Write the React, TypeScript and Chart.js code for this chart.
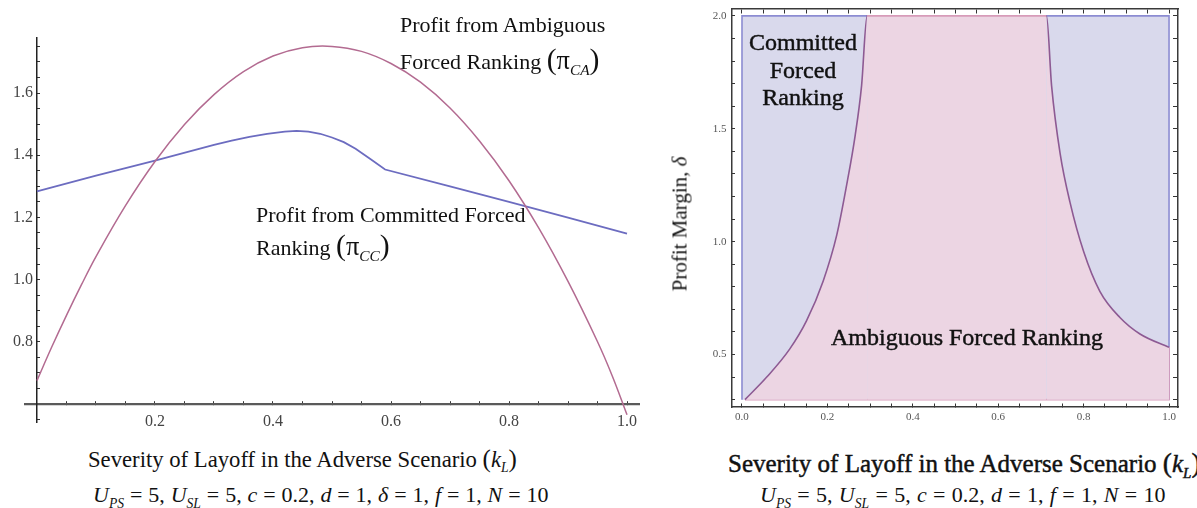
import React, { useEffect, useRef } from 'react';
import { Chart, registerables } from 'chart.js';

Chart.register(...registerables);

// ---------------- Left panel data ----------------
const kAmbiguous = [0, 0.025, 0.05, 0.075, 0.1, 0.15, 0.2, 0.25, 0.3, 0.35, 0.4, 0.45, 0.5, 0.55, 0.6, 0.65, 0.7, 0.75, 0.8, 0.85, 0.9, 0.95, 0.975, 1.0];
const profitAmbiguous = [0.675, 0.783, 0.885, 0.982, 1.074, 1.238, 1.38, 1.499, 1.595, 1.669, 1.719, 1.746, 1.75, 1.734, 1.695, 1.635, 1.552, 1.446, 1.318, 1.167, 0.994, 0.8, 0.69, 0.565];

const kCommitted = [0, 0.1, 0.2, 0.3, 0.33, 0.36, 0.39, 0.42, 0.44, 0.46, 0.48, 0.5, 0.52, 0.54, 0.565, 0.59, 0.7, 0.8, 0.9, 1.0];
const profitCommitted = [1.284, 1.334, 1.383, 1.433, 1.447, 1.459, 1.469, 1.476, 1.478, 1.476, 1.469, 1.457, 1.442, 1.421, 1.388, 1.354, 1.3, 1.25, 1.199, 1.148];

const leftXTickLabels = ['0.2', '0.4', '0.6', '0.8', '1.0'];
const leftYTickLabels = ['0.8', '1.0', '1.2', '1.4', '1.6'];

// ---------------- Right panel data ----------------
const deltaLow = 0.3;
const deltaHigh = 2.0;
const leftBoundaryK = [0.007, 0.058, 0.112, 0.151, 0.19, 0.222, 0.245, 0.265, 0.28, 0.293];
const leftBoundaryDelta = [0.3, 0.4, 0.525, 0.649, 0.825, 1.03, 1.25, 1.47, 1.69, 2.0];
const rightBoundaryK = [0.713, 0.725, 0.745, 0.768, 0.8, 0.838, 0.885, 0.932, 1.0];
const rightBoundaryDelta = [2.0, 1.69, 1.39, 1.175, 0.956, 0.78, 0.664, 0.591, 0.532];

const rightXTickLabels = ['0.0', '0.2', '0.4', '0.6', '0.8', '1.0'];
const rightYTickLabels = ['0.5', '1.0', '1.5', '2.0'];

// ---------------- Styles ----------------
const PINK_LINE = '#b36b91';
const BLUE_LINE = '#6c6cc0';
const BLUE_FILL = '#d9d9ec';
const PINK_FILL = '#ecd5e3';
const BOUNDARY = '#8d5a93';
const BLUE_EDGE = '#8c8cd2';
const PINK_EDGE = '#d79bb9';
const SERIF = '"Liberation Serif", "Times New Roman", serif';

const toPoints = (xs: number[], ys: number[]) => xs.map((x, i) => ({ x, y: ys[i] }));

const labelFrom = (list: string[], spaces = '') => (v: any) => {
  const n = Number(v);
  const s = n.toFixed(1);
  if (Math.abs(n - Number(s)) < 1e-6 && list.includes(s)) return s + spaces;
  return '';
};

function LeftChart() {
  const ref = useRef<HTMLCanvasElement>(null);
  useEffect(() => {
    const chart = new Chart(ref.current as HTMLCanvasElement, {
      type: 'scatter',
      data: {
        datasets: [
          {
            label: 'Profit from Ambiguous Forced Ranking',
            data: toPoints(kAmbiguous, profitAmbiguous),
            showLine: true,
            borderColor: PINK_LINE,
            borderWidth: 1.5,
            pointRadius: 0,
            tension: 0.4,
            fill: false,
          },
          {
            label: 'Profit from Committed Forced Ranking',
            data: toPoints(kCommitted, profitCommitted),
            showLine: true,
            borderColor: BLUE_LINE,
            borderWidth: 1.8,
            pointRadius: 0,
            tension: 0,
            fill: false,
          },
        ],
      } as any,
      options: {
        responsive: false,
        animation: false,
        events: [],
        layout: { padding: { left: 25, top: 38, right: 41, bottom: 23 } },
        plugins: { legend: { display: false }, tooltip: { enabled: false } },
        scales: {
          x: {
            type: 'linear',
            min: -0.0203,
            max: 1.0203,
            position: { y: 0.6 } as any,
            grid: { display: true, drawOnChartArea: false, drawTicks: true, tickLength: -4, tickColor: '#333', tickWidth: 1 },
            border: { display: true, color: '#5a5a5a', width: 2.2 },
            ticks: {
              stepSize: 0.05,
              includeBounds: false,
              autoSkip: false,
              maxRotation: 0,
              padding: 12,
              color: '#444',
              font: { family: SERIF, size: 16 },
              callback: labelFrom(leftXTickLabels),
            },
          },
          y: {
            type: 'linear',
            min: 0.542,
            max: 1.777,
            position: { x: 0 } as any,
            grid: { display: true, drawOnChartArea: false, drawTicks: true, tickLength: -4, tickColor: '#333', tickWidth: 1 },
            border: { display: true, color: '#222', width: 1.5 },
            ticks: {
              stepSize: 0.05,
              includeBounds: false,
              autoSkip: false,
              padding: 4,
              color: '#444',
              font: { family: SERIF, size: 16 },
              callback: labelFrom(leftYTickLabels, ' '),
            },
          },
        },
      } as any,
    });
    return () => chart.destroy();
  }, []);
  return <canvas ref={ref} width={680} height={445} style={{ position: 'absolute', left: 0, top: 0 }} />;
}

function RightChart() {
  const ref = useRef<HTMLCanvasElement>(null);
  useEffect(() => {
    const xMin = -0.0234;
    const xMax = 1.021;
    const yMin = 0.2675;
    const yMax = 2.0307;
    const regionPoints = [
      ...toPoints(leftBoundaryK, leftBoundaryDelta),
      ...toPoints(rightBoundaryK, rightBoundaryDelta),
    ];
    const lastK = rightBoundaryK[rightBoundaryK.length - 1];
    const lastDelta = rightBoundaryDelta[rightBoundaryDelta.length - 1];
    const frameGrid = (len: number) => ({ display: true, drawOnChartArea: false, drawTicks: true, tickLength: len, tickColor: '#333', tickWidth: 1 });
    const frameBorder = { display: true, color: '#3a3a3a', width: 1.5 };
    const chart = new Chart(ref.current as HTMLCanvasElement, {
      type: 'scatter',
      data: {
        datasets: [
          {
            label: 'Ambiguous Forced Ranking',
            data: regionPoints,
            showLine: true,
            xAxisID: 'x',
            yAxisID: 'y',
            borderColor: BOUNDARY,
            borderWidth: 1.6,
            backgroundColor: PINK_FILL,
            pointRadius: 0,
            cubicInterpolationMode: 'monotone',
            fill: { value: deltaLow },
            segment: {
              borderColor: (ctx: any) => {
                const a = ctx.p0.parsed;
                const b = ctx.p1.parsed;
                if (a.y >= deltaHigh - 1e-6 && b.y >= deltaHigh - 1e-6) return PINK_EDGE;
                return undefined;
              },
            },
          },
          {
            label: 'Ambiguous region edge',
            data: [
              { x: leftBoundaryK[0], y: deltaLow },
              { x: lastK, y: deltaLow },
              { x: lastK, y: lastDelta },
            ],
            showLine: true,
            xAxisID: 'x',
            yAxisID: 'y',
            borderColor: PINK_EDGE,
            borderWidth: 1.6,
            pointRadius: 0,
            fill: false,
          },
          {
            label: 'Committed Forced Ranking',
            data: [
              { x: 0, y: deltaLow },
              { x: 0, y: deltaHigh },
              { x: 1, y: deltaHigh },
              { x: 1, y: deltaLow },
            ],
            showLine: true,
            xAxisID: 'x',
            yAxisID: 'y',
            borderColor: BLUE_EDGE,
            borderWidth: 1.6,
            backgroundColor: BLUE_FILL,
            pointRadius: 0,
            tension: 0,
            fill: { value: deltaLow },
          },
        ],
      } as any,
      options: {
        responsive: false,
        animation: false,
        events: [],
        layout: { padding: { left: 42, top: 5, right: 19, bottom: 38 } },
        plugins: { legend: { display: false }, tooltip: { enabled: false } },
        scales: {
          x: {
            type: 'linear',
            axis: 'x',
            min: xMin,
            max: xMax,
            position: { y: yMin } as any,
            grid: frameGrid(-4),
            border: frameBorder,
            ticks: {
              stepSize: 0.05,
              includeBounds: false,
              autoSkip: false,
              maxRotation: 0,
              padding: 8,
              color: '#555',
              font: { family: SERIF, size: 11 },
              callback: labelFrom(rightXTickLabels),
            },
          },
          x2: {
            type: 'linear',
            axis: 'x',
            min: xMin,
            max: xMax,
            position: { y: yMax } as any,
            grid: frameGrid(4),
            border: frameBorder,
            ticks: { stepSize: 0.05, includeBounds: false, autoSkip: false, display: false },
          },
          y: {
            type: 'linear',
            axis: 'y',
            min: yMin,
            max: yMax,
            position: { x: xMin } as any,
            grid: frameGrid(-4),
            border: frameBorder,
            ticks: {
              stepSize: 0.1,
              includeBounds: false,
              autoSkip: false,
              padding: 4,
              color: '#555',
              font: { family: SERIF, size: 11, lineHeight: 0.9 },
              callback: labelFrom(rightYTickLabels, '  '),
            },
          },
          y2: {
            type: 'linear',
            axis: 'y',
            min: yMin,
            max: yMax,
            position: { x: xMax } as any,
            grid: frameGrid(4),
            border: frameBorder,
            ticks: { stepSize: 0.1, includeBounds: false, autoSkip: false, display: false },
          },
        },
      } as any,
    });
    return () => chart.destroy();
  }, []);
  return <canvas ref={ref} width={507} height={445} style={{ position: 'absolute', left: 690, top: 0 }} />;
}

const abs = (left: number, centerY: number, size: number, extra: React.CSSProperties = {}): React.CSSProperties => ({
  position: 'absolute',
  left,
  top: centerY - size / 2,
  fontFamily: SERIF,
  fontSize: size,
  lineHeight: 1,
  whiteSpace: 'nowrap',
  color: '#111',
  ...extra,
});

const heavy: React.CSSProperties = { WebkitTextStroke: '0.45px #111' } as any;

function PiSub({ sub, size }: { sub: string; size: number }) {
  const big: React.CSSProperties = { fontSize: size * 1.35, lineHeight: 0 };
  return (
    <span>
      <span style={big}>(</span>
      <span style={{ fontSize: size * 1.2, lineHeight: 0 }}>π</span>
      <span style={{ fontSize: size * 0.7, fontStyle: 'italic', lineHeight: 0, position: 'relative', top: size * 0.28 }}>{sub}</span>
      <span style={big}>)</span>
    </span>
  );
}

function KL({ size }: { size: number }) {
  return (
    <span>
      <span style={{ fontSize: size * 1.1, lineHeight: 0 }}>(</span>
      <span style={{ fontStyle: 'italic' }}>k</span>
      <span style={{ fontSize: size * 0.6, fontStyle: 'italic', lineHeight: 0, position: 'relative', top: size * 0.25 }}>L</span>
      <span style={{ fontSize: size * 1.1, lineHeight: 0 }}>)</span>
    </span>
  );
}

function Sub({ t, size }: { t: string; size: number }) {
  return <span style={{ fontSize: size * 0.62, fontStyle: 'italic', lineHeight: 0, position: 'relative', top: size * 0.25 }}>{t}</span>;
}

function Params({ size, withDelta }: { size: number; withDelta: boolean }) {
  const I = ({ c }: { c: string }) => <span style={{ fontStyle: 'italic' }}>{c}</span>;
  return (
    <span>
      <I c="U" /><Sub t="PS" size={size} /> = 5, <I c="U" /><Sub t="SL" size={size} /> = 5, <I c="c" /> = 0.2, <I c="d" /> = 1,{' '}
      {withDelta ? (<><I c="δ" /> = 1, </>) : null}
      <I c="f" /> = 1, <I c="N" /> = 10
    </span>
  );
}

export default function App() {
  useEffect(() => {
    document.body.style.margin = '0';
  }, []);
  return (
    <div style={{ position: 'fixed', left: 0, top: 0, width: 1197, height: 508, background: '#fff', overflow: 'hidden' }}>
      <LeftChart />
      <RightChart />

      {/* Left panel annotations */}
      <div style={abs(400, 25, 22)}>Profit from Ambiguous</div>
      <div style={abs(400, 62, 22)}>Forced Ranking <PiSub sub="CA" size={22} /></div>
      <div style={abs(256, 215, 22)}>Profit from Committed Forced</div>
      <div style={abs(256, 248, 22)}>Ranking <PiSub sub="CC" size={22} /></div>

      <div style={abs(88, 460, 22.7)}>Severity of Layoff in the Adverse Scenario <KL size={22.7} /></div>
      <div style={abs(93, 495, 22, { wordSpacing: 0.4 })}><Params size={22} withDelta={true} /></div>

      {/* Right panel annotations */}
      <div style={abs(803, 42, 24, { transform: 'translateX(-50%)', ...heavy })}>Committed</div>
      <div style={abs(803, 70, 24, { transform: 'translateX(-50%)', ...heavy })}>Forced</div>
      <div style={abs(803, 97, 24, { transform: 'translateX(-50%)', ...heavy })}>Ranking</div>
      <div style={abs(967, 337, 24, { transform: 'translateX(-50%)', ...heavy })}>Ambiguous Forced Ranking</div>

      <div
        style={{
          position: 'absolute',
          left: 680,
          top: 224,
          transform: 'translate(-50%, -50%) rotate(-90deg)',
          fontFamily: SERIF,
          fontSize: 21,
          lineHeight: 1,
          whiteSpace: 'nowrap',
          color: '#111',
        }}
      >
        Profit Margin, <span style={{ fontStyle: 'italic' }}>δ</span>
      </div>

      <div style={abs(728, 463, 25, heavy)}>Severity of Layoff in the Adverse Scenario <KL size={25} /></div>
      <div style={abs(760, 495, 22, { wordSpacing: 0.8 })}><Params size={22} withDelta={false} /></div>
    </div>
  );
}
